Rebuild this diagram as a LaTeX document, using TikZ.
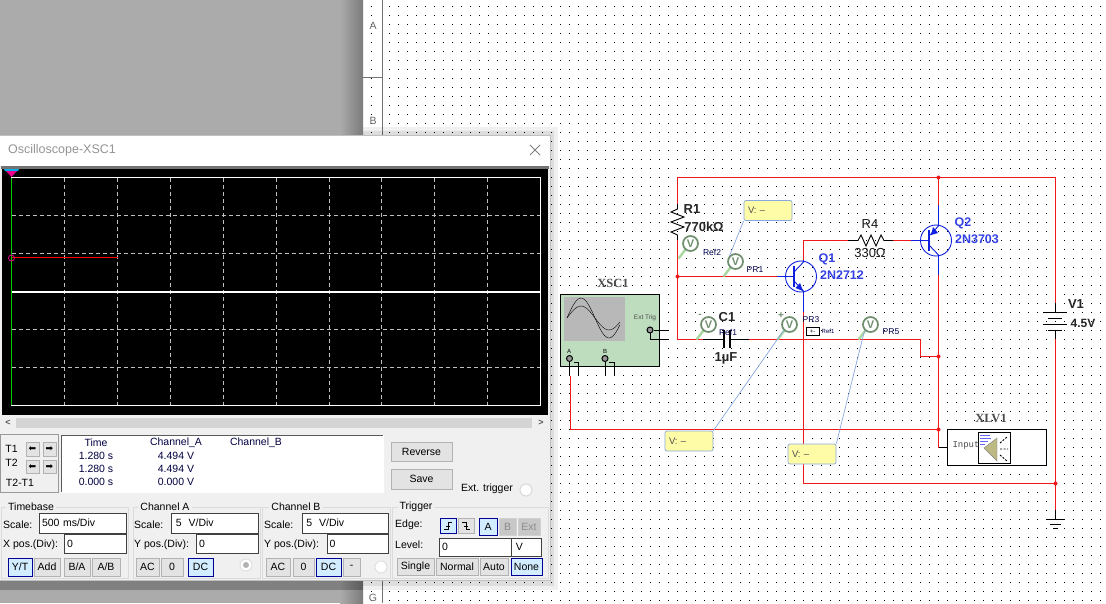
\documentclass[tikz,border=0pt]{standalone}
\usepackage{fontspec}
\setmainfont{Liberation Sans}
\newfontfamily\labfont{Liberation Serif}
\newfontfamily\symfont{DejaVu Sans}
\newfontfamily\inputfont{Liberation Mono}
\usetikzlibrary{calc}
\definecolor{panel}{HTML}{F0F0F0}
\definecolor{sheetgray}{HTML}{ABABAB}
\definecolor{wirered}{HTML}{F01818}
\definecolor{partblue}{HTML}{1020E0}
\definecolor{probegreen}{HTML}{6E8E6E}
\definecolor{tailgreen}{HTML}{A8D8A0}
\definecolor{tagfill}{HTML}{FFFCA8}
\definecolor{tagline}{HTML}{88A8E0}
\definecolor{scopegreen}{HTML}{BEDDBE}
\newcommand{\ctl}[7]{\node[#2,minimum width={#4pt-#3pt},minimum height={#6pt-#5pt}] (#1) at ({(#3+#4)/2},{(#5+#6)/2}) {#7};}
\newcommand{\panelbox}[5]{\draw[grpline] (#1,#3) rectangle (#2,#4); \node[grptitle] at (#5,#3) {\strut};}

\begin{document}
\begin{tikzpicture}[x=1pt,y=-1pt,
  every node/.style = {font=\fontsize{10.5}{12}\selectfont, inner sep=0pt},
  btn/.style = {draw=black!30, fill=black!11, line width=.8pt},
  btnon/.style = {draw=blue!60!black, fill=blue!40!cyan!18, line width=.8pt},
  btnoff/.style = {draw=black!18, fill=black!22, text=black!45, line width=.8pt},
  inbox/.style = {draw=black!75, fill=white, line width=.8pt, align=left, text width={#1}},
  inbox/.default = 40pt,
  grpline/.style = {draw=black!14, line width=.8pt},
  grptitle/.style = {fill=panel, inner xsep=2pt},
  wire/.style = {wirered, line width=.9pt},
  lead/.style = {black, line width=.9pt},
  part/.style = {partblue, line width=.9pt},
  probe/.style = {circle, draw=probegreen, line width=1.7pt, fill=white, minimum size=15pt, text=probegreen, font=\fontsize{11}{11}\selectfont\bfseries},
  tail/.style = {tailgreen, line width=2.4pt},
  tag/.style = {draw=tagline, fill=tagfill, rounded corners=2pt, line width=.7pt, minimum width=48pt, minimum height=20pt, text width=40pt, align=left, font=\fontsize{9.5}{10}\selectfont, text=black!70},
  leader/.style = {tagline, line width=.7pt},
  lbl/.style = {font=\fontsize{13}{14}\selectfont, text=black!90},
  blbl/.style = {font=\fontsize{13}{14}\selectfont\bfseries, text=black!85},
  qlbl/.style = {font=\fontsize{12.5}{14}\selectfont\bfseries, text=partblue!85!white},
  tiny/.style = {font=\fontsize{8.5}{10}\selectfont, text=blue!30!black},
  instr/.style = {font=\labfont\fontsize{12.5}{14}\selectfont\bfseries, text=black!70},
  junction/.style = {circle, fill=wirered, minimum size=4pt}]
\useasboundingbox (0,0) rectangle (1106,603);
\fill[white] (0,0) rectangle (1106,603);
% sheet dots
\foreach \i in {-2,0,1,...,79}
  \foreach \j in {0,1,...,66}
    \fill[black] ({389+9*\i},{6+9*\j}) rectangle +(1,1);
\draw[black!55] (382.5,0) -- (382.5,603);
\draw[black!55] (363,77.5) -- (382,77.5);
\node[text=black!60] (rowA) at (373,26) {A};
\node[text=black!60] (rowB) at (373,121) {B};
\node[text=black!60] (rowG) at (373,597.5) {G};
% grey workspace
\fill[sheetgray] (0,0) rectangle (340,603);
\shade[left color=sheetgray, right color=black!52] (340,0) rectangle (363,603);

% ---- circuit ----
\coordinate (tl) at (677.5,177.5);
\coordinate (tq) at (938.5,177.5);
\coordinate (tr) at (1055.5,177.5);
\coordinate (jb) at (677.5,276.5);
\coordinate (bl) at (677.5,339.5);
\coordinate (jc) at (803.5,339.5);
\coordinate (jd) at (938.5,356.5);
\coordinate (je) at (938.5,429.5);
\coordinate (jf) at (1055.5,483.5);
% red wires
\draw[wire] (677.5,204) -- (tl) -- (tr) -- (1055.5,303);
\draw[wire] (tq) -- (938.5,205);
\draw[wire] (677.5,240) -- (bl) -- (703,339.5);
\draw[wire] (jb) -- (777,276.5);
\draw[wire] (749,339.5) -- (920.5,339.5) -- (920.5,356.5) -- (jd);
\draw[wire] (803.5,312) -- (803.5,483.5) -- (jf);
\draw[wire] (1055.5,339) -- (1055.5,510);
\draw[wire] (803.5,260) -- (803.5,240.5) -- (848,240.5);
\draw[wire] (893,240.5) -- (911,240.5);
\draw[wire] (938.5,275) -- (938.5,447.5);
\draw[wire] (570.5,376) -- (570.5,429.5) -- (je);
\node[junction] (j1) at (tq) {};
\node[junction] (j2) at (jb) {};
\node[junction] (j3) at (jd) {};
\node[junction] (j4) at (je) {};
\node[junction] (j5) at (jf) {};
% resistors, capacitor
\draw[lead] (677.5,204) -- (677.5,209) -- (671,212) -- (684,217) -- (671,222) -- (684,227) -- (671,232) -- (677.5,235) -- (677.5,240);
\draw[lead] (848,240.5) -- (858,240.5) -- (861,235) -- (866,246) -- (871,235) -- (876,246) -- (881,235) -- (884,240.5) -- (893,240.5);
\draw[lead] (703,339.5) -- (724,339.5);
\draw[lead] (730,339.5) -- (749,339.5);
\draw[black, line width=1.6pt] (724,330) -- (724,348);
\draw[black, line width=1.6pt] (730,330) -- (730,348);
% transistors
\node[circle, draw=partblue, line width=.9pt, minimum size=31pt] (q1) at (801,276.5) {};
\node[circle, draw=partblue, line width=.9pt, minimum size=31pt] (q2) at (936,240.5) {};
\draw[part] (777,276.5) -- (794,276.5);
\draw[part, line width=1.2pt] (794,266) -- (794,287);
\draw[part] (794,272) -- (803.5,262) -- (803.5,260);
\draw[part] (794,281) -- (803.5,291) -- (803.5,312);
\fill[partblue] (803,291) -- (795.5,288) -- (800,283) -- cycle;
\draw[part] (911,240.5) -- (929,240.5);
\draw[part, line width=1.2pt] (929,230) -- (929,251);
\draw[part] (929,236) -- (938.5,226) -- (938.5,205);
\draw[part] (929,245) -- (938.5,255) -- (938.5,275);
\fill[partblue] (931,235) -- (938,233) -- (933,227) -- cycle;
% battery and ground
\draw[lead] (1055.5,303) -- (1055.5,312);
\draw[lead] (1043,312.5) -- (1067,312.5);
\draw[lead] (1048,318.5) -- (1062,318.5);
\draw[lead] (1043,324.5) -- (1067,324.5);
\draw[lead] (1048,330.5) -- (1062,330.5);
\draw[lead] (1055.5,330.5) -- (1055.5,339);
\draw[lead] (1055.5,510) -- (1055.5,519.5);
\draw[lead] (1046,519.5) -- (1065,519.5);
\draw[lead] (1050,524.5) -- (1061,524.5);
\draw[lead] (1053,528.5) -- (1058,528.5);
% part labels
\node[blbl] (r1lab) at (692,209) {R1};
\node[blbl] (r1val) at (704,227) {770kΩ};
\node[lbl] (r4lab) at (870,224) {R4};
\node[lbl] (r4val) at (870,253) {330Ω};
\node[blbl] (c1lab) at (727,317) {C1};
\node[blbl] (c1val) at (726,358) {1µF};
\node[blbl] (v1lab) at (1076,304) {V1};
\node[blbl,font=\fontsize{12}{14}\selectfont\bfseries] (v1val) at (1083,323) {4.5V};
\node[qlbl] (q1lab) at (827,259) {Q1};
\node[qlbl] (q1val) at (842,275) {2N2712};
\node[qlbl] (q2lab) at (963,223) {Q2};
\node[qlbl] (q2val) at (977,239) {2N3703};
% probes
\foreach \pname/\px/\py in {prone/735.5/261.5, prtwo/690.5/243.5, prref/708.5/324.5, prthree/789.5/324.5, prfive/870.5/324.5}
  { \draw[tail] ($(\px,\py)+(-5,6)$) -- ($(\px,\py)+(-12,15)$);
    \node[probe] (\pname) at (\px,\py) {V}; }
\node[tiny] (pr1lab) at (755,270) {PR1};
\node[tiny] (ref2lab) at (712,252) {Ref2};
\node[tiny] (ref1lab) at (728,332) {Ref1};
\node[tiny] (pr3lab) at (811,320) {PR3};
\node[tiny] (pr5lab) at (891,332) {PR5};
\node[font=\fontsize{10}{10}\selectfont\bfseries, text=probegreen] (minus) at (700,316) {-};
\node[font=\fontsize{10}{10}\selectfont\bfseries, text=probegreen] (plus) at (781,316) {+};
\node[draw=black, fill=white, minimum width=13pt, minimum height=8pt, font=\fontsize{6}{6}\selectfont] (meter) at (812.5,331.5) {+-};
\node[tiny, font=\fontsize{6}{7}\selectfont] (ref1b) at (828,331) {Ref1};
% voltage tags
\node[tag] (tagone) at (768,210.5) {V: --};
\node[tag] (tagthree) at (689,441) {V: --};
\node[tag] (tagfive) at (812,454) {V: --};
\draw[leader] (tagone.south west) -- (prone.north west);
\draw[leader] (tagthree.north east) -- (prthree.south west);
\draw[leader] (tagfive.north east) -- (prfive.south west);
\draw[lead] (938.5,447.5) -- (948,447.5);
% analyzer
\node[draw=black, fill=white, line width=.9pt, minimum width=98.5pt, minimum height=36pt] (xlv) at (996.75,447) {};
\node[instr] (xlvlab) at (991,418) {XLV1};
\node[draw=black, fill=white, line width=.9pt, minimum width=32pt, minimum height=31pt] (spk) at (994,447.5) {};
\node[font=\inputfont\fontsize{9}{9}\selectfont, text=black!70] (inlab) at (966,445) {Input};
\fill[yellow!50!black!60, draw=black!50] (984,448) -- (997,438) -- (997,461) -- cycle;
\draw[blue!60, line width=1pt] (980,435) -- (990,435) (980,438) -- (991,438) (980,441) -- (988,441) (980,444) -- (985,444);
\draw[black, dash pattern=on 2pt off 1.5pt, line width=.9pt] (1000,443) -- (1007,437) (1000,449) -- (1008,449) (1000,455) -- (1007,461);
% oscilloscope symbol
\node[draw=black, fill=scopegreen, line width=.9pt, minimum width=98.5pt, minimum height=71.5pt] (xsc) at (609.75,330.25) {};
\node[instr] (xsclab) at (613,283) {XSC1};
\fill[black!28] (564,297) rectangle (625,341);
\draw[black] plot[smooth,domain=0:340,samples=25] ({567+\x/360*56},{318-20*sin(\x)});
\draw[black] plot[smooth,domain=0:340,samples=25] ({567+\x/360*56},{318-12*sin(\x)});
\node[font=\fontsize{6.5}{7}\selectfont, text=black!70] (extlab) at (645,318) {Ext Trig};
\node[font=\fontsize{6}{6}\selectfont] (alab) at (569,351) {A};
\node[font=\fontsize{6}{6}\selectfont] (blab) at (605,351) {B};
\foreach \pt/\px/\py in {porta/569.5/358.5, portb/605/358.5, portt/650/330}
  \node[circle, draw=black, fill=black!40, line width=1pt, minimum size=6pt] (\pt) at (\px,\py) {};
\draw[lead] (porta) -- (569.5,376) (578.5,362) -- (578.5,376) (574,362) -- (578.5,362);
\draw[lead] (portb) -- (605,376) (614,362) -- (614,376) (609,362) -- (614,362);
\draw[lead] (portt) -- (669,330) (650,333) -- (650,339.5) -- (669,339.5);

% ---- instrument window ----
\fill[black, opacity=.06] (363,127) rectangle (558,590);
\fill[black, opacity=.08] (363,131) rectangle (554,586);
\fill[black, opacity=.25] (0,580) rectangle (363,590);
\fill[panel] (0,135.5) rectangle (550.5,580.5);
\fill[white] (0,136) rectangle (550,166);
\draw[panel!80!black] (0,135.5) -- (550.5,135.5) -- (550.5,580.5) -- (0,580.5);
\node[anchor=west, text=black!42, font=\fontsize{12.5}{14}\selectfont] (title) at (8,150) {Oscilloscope-XSC1};
\draw[black!50, line width=.8pt] (530,145) -- (540,155) (540,145) -- (530,155);
% screen
\fill[black!55] (1,166) rectangle (549,169);
\fill[black] (2,169) rectangle (548,415);
\foreach \i in {1,...,9}
  \draw[black!25, line width=.7pt, dash pattern=on 4pt off 3pt] ({11.5+52.9*\i},177.5) -- ({11.5+52.9*\i},405);
\foreach \j in {1,2,4,5}
  \draw[black!25, line width=.7pt, dash pattern=on 4pt off 3pt] (11.5,{177.5+38*\j}) -- (540.5,{177.5+38*\j});
\draw[white, line width=.8pt] (11.5,177.5) rectangle (540.5,405);
\draw[white, line width=1.2pt] (11.5,292) -- (540.5,292);
\draw[green!80!black, line width=.8pt] (11.5,178) -- (11.5,405);
\draw[red, line width=.8pt] (11.5,257.5) -- (118,257.5);
\draw[magenta, line width=.8pt] (11.5,258) circle (3);
\fill[cyan] (4,169) -- (19,169) -- (18,171) -- (5,171) -- cycle;
\fill[magenta] (6,171) -- (17,171) -- (11.5,177) -- cycle;
% scrollbar
\fill[black!17] (16,418) rectangle (532,428);
\node[font=\fontsize{9}{9}\selectfont\bfseries, text=black!65] (scrl) at (8,423) {<};
\node[font=\fontsize{9}{9}\selectfont\bfseries, text=black!65] (scrr) at (541,423) {>};
% cursors
\draw[black!40, line width=.8pt] (.5,434.5) rectangle (58.5,492);
\draw[white, line width=.8pt] (61,492) -- (383,492) -- (383,435);
\fill[white] (61,435) rectangle (383,492);
\draw[black!65, line width=1pt] (61.5,492) -- (61.5,435.5) -- (383,435.5);
\node (tonelab) at (11.5,449) {T1};
\node (ttwolab) at (11.5,463) {T2};
\node (tdiff) at (20,483) {T2-T1};
\ctl{t1l}{btn}{26}{39}{442}{456}{\symfont\fontsize{9}{9}\selectfont ⬅}
\ctl{t1r}{btn}{43}{56}{442}{456}{\symfont\fontsize{9}{9}\selectfont ➡}
\ctl{t2l}{btn}{26}{39}{460}{473}{\symfont\fontsize{9}{9}\selectfont ⬅}
\ctl{t2r}{btn}{43}{56}{460}{473}{\symfont\fontsize{9}{9}\selectfont ➡}
\foreach \tx/\ca/\yy in {Time/Channel\_A/443, 1.280 s/4.494 V/456, 1.280 s/4.494 V/469, 0.000 s/0.000 V/482}
  { \node[anchor=center, text=blue!25!black] at (96,\yy) {\tx};
    \node[anchor=center, text=blue!25!black] at (176,\yy) {\ca}; }
\node[text=blue!25!black] (chb) at (256,443) {Channel\_B};
\ctl{rev}{btn}{391}{452}{442}{461}{Reverse}
\ctl{sav}{btn}{391}{452}{469}{489}{Save}
\node (extt) at (487,489) {Ext. trigger};
\node[circle, draw=black!15, fill=white, line width=1pt, minimum size=12pt] (extc) at (526,490) {};
% group frames
\panelbox{1}{128}{507}{578}{31}
\panelbox{133}{260}{507}{578}{165}
\panelbox{262}{390}{507}{578}{296}
\panelbox{392}{548}{507}{578}{416}
\node[fill=panel, inner xsep=2pt] (tbase) at (31,507) {Timebase};
\node[fill=panel, inner xsep=2pt] (cha) at (165,507) {Channel A};
\node[fill=panel, inner xsep=2pt] (chbb) at (296,507) {Channel B};
\node[fill=panel, inner xsep=2pt] (trig) at (416,507) {Trigger};
% timebase
\node[anchor=west] (s1) at (3,525) {Scale:};
\node[anchor=west] (x1) at (3,545) {X pos.(Div):};
\ctl{tbscale}{inbox=81pt}{39}{126}{513}{533}{500 ms/Div}
\ctl{tbpos}{inbox=56pt}{64}{126}{534}{553}{0}
\ctl{yt}{btnon}{8}{32}{558}{576}{Y/T}
\ctl{add}{btn}{34}{60}{558}{576}{Add}
\ctl{ba}{btn}{64}{90}{558}{576}{B/A}
\ctl{ab}{btn}{92}{120}{558}{576}{A/B}
% channel A
\node[anchor=west] (s2) at (134,525) {Scale:};
\node[anchor=west] (y2) at (134,545) {Y pos.(Div):};
\ctl{cascale}{inbox=81pt}{171}{258}{513}{533}{\,5\ \ V/Div}
\ctl{capos}{inbox=56pt}{196}{258}{534}{553}{0}
\ctl{aac}{btn}{136}{159}{558}{576}{AC}
\ctl{azr}{btn}{161}{183}{558}{576}{0}
\ctl{adc}{btnon}{188}{213}{558}{576}{DC}
\node[circle, draw=black!12, fill=white, line width=1pt, minimum size=12pt] (arad) at (246,565) {};
\fill[black!30] (arad) circle (3);
% channel B
\node[anchor=west] (s3) at (264,525) {Scale:};
\node[anchor=west] (y3) at (264,545) {Y pos.(Div):};
\ctl{cbscale}{inbox=81pt}{302}{388}{513}{533}{\,5\ \ V/Div}
\ctl{cbpos}{inbox=56pt}{327}{388}{534}{553}{0}
\ctl{bac}{btn}{266}{290}{558}{576}{AC}
\ctl{bzr}{btn}{293}{314}{558}{576}{0}
\ctl{bdc}{btnon}{316}{341}{558}{576}{DC}
\ctl{bgnd}{btn}{343}{360}{558}{576}{-}
\node[circle, draw=black!12, fill=white, line width=1pt, minimum size=12pt] (brad) at (381,567) {};
% trigger
\node[anchor=west] (edge) at (395,525) {Edge:};
\node[anchor=west] (lev) at (395,545) {Level:};
\ctl{rise}{btnon}{440}{456}{518}{533}{}
\ctl{fall}{btn}{458}{474}{518}{533}{}
\draw[black, line width=.8pt] (444,529) -- (448,529) -- (448,522) -- (452,522) (446,526) -- (450,526);
\draw[black, line width=.8pt] (462,522) -- (466,522) -- (466,529) -- (470,529) (464,526) -- (468,526);
\ctl{tga}{btnon}{479}{497}{518}{535}{A}
\ctl{tgb}{btnoff}{499}{516}{518}{535}{B}
\ctl{tge}{btnoff}{518}{540}{518}{535}{Ext}
\ctl{tglev}{inbox=66pt}{439}{511}{538}{556}{0}
\ctl{tgv}{inbox=24pt}{511}{541}{538}{556}{\,V}
\ctl{sing}{btn}{397}{434}{558}{575}{Single}
\ctl{norm}{btn}{436}{478}{558}{575}{Normal}
\ctl{auto}{btn}{480}{508}{558}{575}{Auto}
\ctl{none}{btnon}{511}{542}{558}{575}{None}
\end{tikzpicture}
\end{document}
